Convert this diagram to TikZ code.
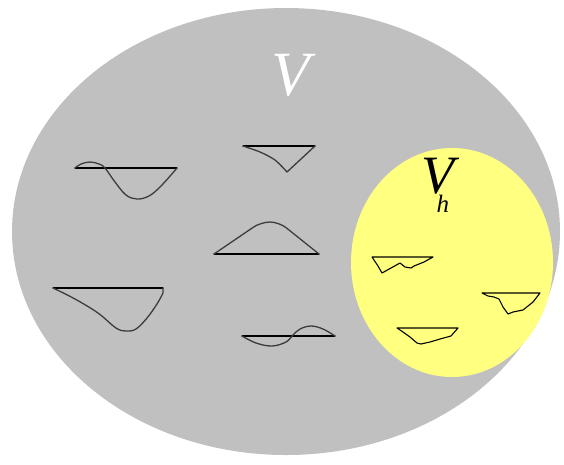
\documentclass[tikz,border=0pt]{standalone}
\usepackage{fontspec}
\setmainfont{Liberation Serif}
\usetikzlibrary{calc}
\definecolor{spaceGray}{HTML}{C0C0C0}
\definecolor{subYellow}{HTML}{FFFF80}
\definecolor{curveGray}{HTML}{3C3C3C}

\begin{document}
\begin{tikzpicture}[x=1pt,y=-1pt,line width=1.3pt,
    base/.style={black,line cap=round},
    fn/.style={curveGray,line join=round},
    elem/.style={black,line width=1.1pt,line join=round},
    lbl/.style={inner sep=0pt,anchor=base west}]
  \useasboundingbox (0,0) rectangle (564,464);
  \fill[spaceGray] (286,231.5) ellipse [x radius=274,y radius=223.5];
  \fill[subYellow] (452,262.5) ellipse [x radius=101,y radius=114.5];

  \node[lbl,text=white] (V) at (271,95) {\fontsize{63}{63}\selectfont\itshape V};
  \node[lbl] (Vh) at (421,193) {\fontsize{54}{54}\selectfont\itshape V\kern-18pt\raisebox{-19pt}{\fontsize{25}{25}\selectfont h}};

  \draw[base] (75,168) -- (177,168);
  \draw[fn] plot[smooth,tension=0.6] coordinates {(75,168) (81,164) (90,162) (99,164) (105,168)
    (115,182) (126,195) (137,199) (149,196) (161,186) (177,168)};

  \draw[base] (243,146) -- (315,146);
  \draw[fn] plot[smooth,tension=0.5] coordinates {(243,146) (260,152) (275,160) (287,172)} -- (315,146);

  \draw[base] (214,254) -- (319,254);
  \draw[fn,rounded corners=9pt] (214,254) -- (261,222) -- (279,222) -- (319,254);

  \draw[base] (53,288) -- (163,288);
  \draw[fn] plot[smooth,tension=0.6] coordinates {(53,288) (75,299) (98,313) (116,328) (126,331)
    (136,329) (147,318) (157,304) (163,293)} -- (163,288);

  \draw[base] (242,336) -- (335,336);
  \draw[fn] plot[smooth,tension=0.6] coordinates {(242,336) (256,343) (272,346) (286,342) (293,335)
    (300,329) (311,326) (323,329) (335,336)};

  \draw[elem] (372,257) -- (433,257) -- (424,262) -- (414,266) -- (411,268) -- (405,267)
    -- (400,263) -- (391,268) -- (382,273) -- (378,266) -- cycle;
  \draw[elem] (482,293) -- (540,293) -- (533,302) -- (523,310) -- (513,312) -- (508,314)
    -- (503,307) -- (499,299) -- (494,297) -- (488,296) -- cycle;
  \draw[elem] (397,328) -- (458,328) -- (451,336) -- (440,339) -- (430,342) -- (421,344)
    -- (417,343) -- (410,337) -- (403,332) -- cycle;
\end{tikzpicture}
\end{document}
